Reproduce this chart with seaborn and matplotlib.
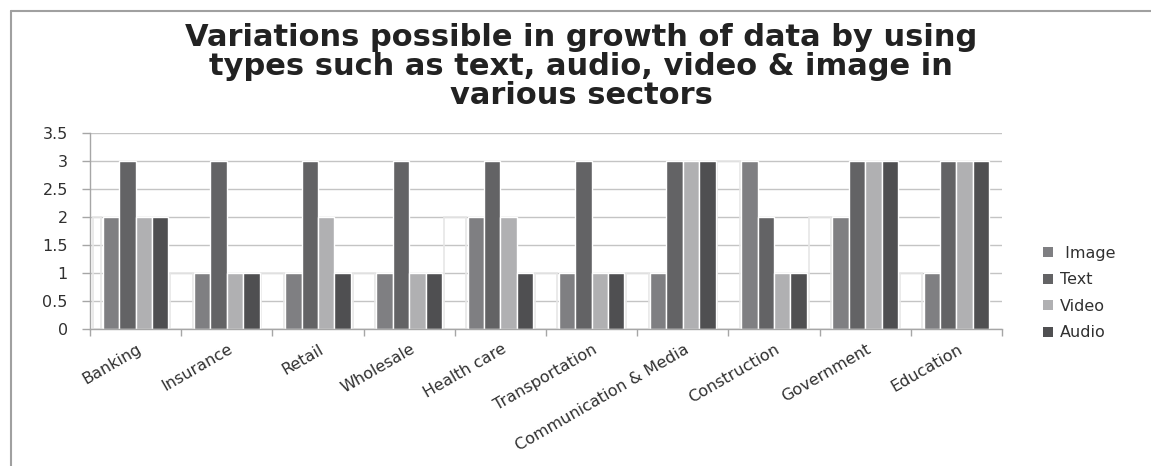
import numpy as np
import pandas as pd
import matplotlib
matplotlib.use('Agg')
import matplotlib.pyplot as plt
import matplotlib.transforms as mtransforms
import seaborn as sns
from matplotlib.patches import Rectangle
from matplotlib.lines import Line2D

sectors = ['Banking', 'Insurance', 'Retail', 'Wholesale', 'Health care', 'Transportation',
           'Communication & Media', 'Construction', 'Government', 'Education']
types = ['Image', 'Text', 'Video', 'Audio']
legend_labels = [' Image', 'Text', 'Video', 'Audio']
image = [2, 1, 1, 1, 2, 1, 1, 3, 2, 1]
text = [3, 3, 3, 3, 3, 3, 3, 2, 3, 3]
video = [2, 1, 2, 1, 2, 1, 3, 1, 3, 3]
audio = [2, 1, 1, 1, 1, 1, 3, 1, 3, 3]
y_ticks = [0, 0.5, 1, 1.5, 2, 2.5, 3, 3.5]
title = ('Variations possible in growth of data by using\n'
         'types such as text, audio, video & image in\n'
         'various sectors')

colors = ['#7f7f82', '#636365', '#b0b0b2', '#4f4f51']

df = pd.DataFrame({
    'Sector': sectors * 4,
    'Type': [t for t in types for _ in sectors],
    'Value': image + text + video + audio,
})

sns.set_style('white')
plt.rcParams['font.family'] = ['DejaVu Sans']

fig = plt.figure(figsize=(11.51, 4.66), dpi=100)
ax = fig.add_axes([90 / 1151, 1 - 329 / 466, 912 / 1151, 196 / 466])

sns.barplot(data=df, x='Sector', y='Value', hue='Type', hue_order=types,
            palette=colors, width=0.72, saturation=1, edgecolor='white',
            linewidth=1.0, ax=ax, legend=False, zorder=2)

ax.set_xlim(-0.5, len(sectors) - 0.5)
ax.set_ylim(0, 3.5)

# faint "shadow" outlines Excel draws to the left of each group
img_bars = ax.containers[0]
aud_bars = ax.containers[3]
for i, bar in enumerate(img_bars):
    if i == 0:
        left = -0.5 + 0.03
    else:
        prev = aud_bars[i - 1]
        left = prev.get_x() + prev.get_width() + 0.02
    right = bar.get_x() - 0.015
    ax.add_patch(Rectangle((left, 0), right - left, bar.get_height(),
                           facecolor='none', edgecolor='#e6e6e6',
                           lw=1.2, zorder=1.5))

ax.set_yticks(y_ticks)
ax.set_yticklabels([f'{v:g}' for v in y_ticks], fontsize=11.5, color='#303030')
ax.yaxis.grid(True, color='#c4c4c4', lw=1)
ax.set_axisbelow(True)
ax.tick_params(axis='y', length=6, color='#a6a6a6', width=1, pad=10, left=True)

ax.set_xticks(range(len(sectors)))
ax.set_xticklabels(sectors, rotation=30, ha='right', rotation_mode='anchor',
                   fontsize=11.5, color='#303030')
ax.tick_params(axis='x', which='major', length=0, pad=9)
shift = mtransforms.ScaledTranslation(1 / 100, 0, fig.dpi_scale_trans)
for lab in ax.get_xticklabels():
    lab.set_transform(lab.get_transform() + shift)
ax.set_xticks(np.arange(-0.5, len(sectors), 1), minor=True)
ax.tick_params(axis='x', which='minor', length=5, color='#a6a6a6', width=1,
               direction='out', bottom=True)

ax.set_xlabel('')
ax.set_ylabel('')
for s in ['top', 'right']:
    ax.spines[s].set_visible(False)
for s in ['left', 'bottom']:
    ax.spines[s].set_color('#a6a6a6')
    ax.spines[s].set_linewidth(1)

handles = [Rectangle((0, 0), 1, 1, facecolor=c, edgecolor='none') for c in colors]
ax.legend(handles, legend_labels, loc='center left',
          bbox_to_anchor=(1029 / 1151, 1 - 293 / 466), bbox_transform=fig.transFigure,
          frameon=False, fontsize=11.5, handlelength=0.6, handleheight=0.6,
          handletextpad=0.45, labelspacing=0.72, labelcolor='#303030')

fig.text(581 / 1151, 1 - 23 / 466, title, ha='center', va='top', fontsize=22,
         fontweight='bold', color='#222222', linespacing=1.0)

fig.add_artist(Line2D([11 / 1151, 1], [1 - 11 / 466] * 2, transform=fig.transFigure,
                      color='#a0a0a0', lw=1.5))
fig.add_artist(Line2D([11 / 1151] * 2, [0, 1 - 11 / 466], transform=fig.transFigure,
                      color='#a0a0a0', lw=1.5))

fig.savefig('out.png', dpi=100)
